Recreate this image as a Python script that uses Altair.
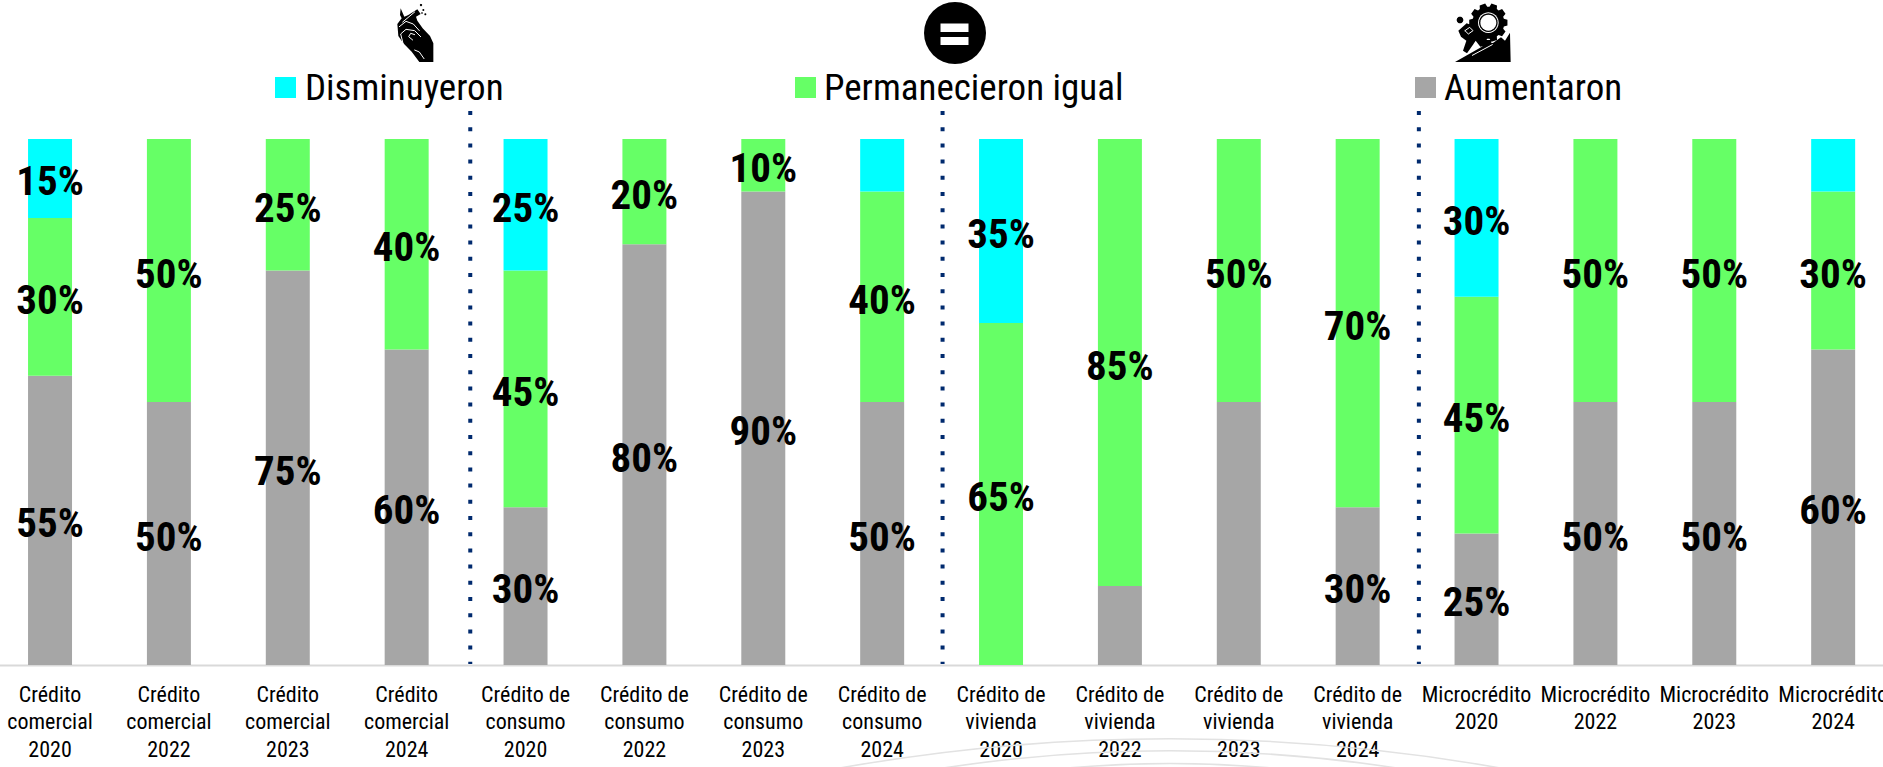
import math
import altair as alt
import pandas as pd

# ---- values ----
products = ["Crédito comercial"] * 4 + ["Crédito de consumo"] * 4 + ["Crédito de vivienda"] * 4 + ["Microcrédito"] * 4
years = ["2020", "2022", "2023", "2024"] * 4
tick_lines = (
    ["Crédito|comercial"] * 4 + ["Crédito de|consumo"] * 4 + ["Crédito de|vivienda"] * 4 + ["Microcrédito"] * 4
)
aumentaron = [55, 50, 75, 60, 30, 80, 90, 50, 0, 15, 50, 30, 25, 50, 50, 60]
permanecieron = [30, 50, 25, 40, 45, 20, 10, 40, 65, 85, 50, 70, 45, 50, 50, 30]
disminuyeron = [15, 0, 0, 0, 25, 0, 0, 10, 35, 0, 0, 0, 30, 0, 0, 10]
# segments printed without a percentage: (series, column)
unlabelled = {("Disminuyeron", 7), ("Aumentaron", 9), ("Aumentaron", 10), ("Disminuyeron", 15)}

series_names = ["Aumentaron", "Permanecieron igual", "Disminuyeron"]
series_values = [aumentaron, permanecieron, disminuyeron]
series_colors = ["#A6A6A6", "#66FF66", "#00FFFF"]

legend_names = ["Disminuyeron", "Permanecieron igual", "Aumentaron"]
legend_colors = ["#00FFFF", "#66FF66", "#A6A6A6"]
legend_swatch_x = [285.5, 805.5, 1425.5]
legend_text_x = [305, 824, 1444]

FONT = "Roboto Condensed"

# ---- table ----
keys = [f"{i:02d}|{tick_lines[i]}|{years[i]}" for i in range(16)]
rows = []
for c in range(16):
    base = 0
    for name, vals in zip(series_names, series_values):
        v = vals[c]
        if v > 0:
            rows.append(
                {
                    "key": keys[c],
                    "serie": name,
                    "start": base,
                    "end": base + v,
                    "mid": base + v / 2,
                    "label": "" if (name, c) in unlabelled else f"{v}%",
                }
            )
        base += v
df = pd.DataFrame(rows)

x_scale = alt.Scale(domain=keys, range=[-9.4, 1892.6], paddingInner=0.63, paddingOuter=0.315)
y_scale = alt.Scale(domain=[0, 100], range=[665, 139])

x_axis = alt.Axis(
    title=None,
    labelExpr="slice(split(datum.value, '|'), 1)",
    labelAngle=0,
    labelFont=FONT,
    labelFontSize=22,
    labelColor="#000000",
    labelLineHeight=27.5,
    labelPadding=19,
    labelBaseline="top",
    labelOverlap=False,
    labelBound=False,
    labelFlush=False,
    ticks=False,
    domainColor="#D9D9D9",
    domainWidth=2,
    grid=False,
)

bars = (
    alt.Chart(df)
    .mark_bar(opacity=1)
    .encode(
        x=alt.X("key:N", scale=x_scale, axis=x_axis, sort=keys),
        y=alt.Y("start:Q", scale=y_scale, axis=None),
        y2="end:Q",
        color=alt.Color("serie:N", scale=alt.Scale(domain=series_names, range=series_colors), legend=None),
    )
)

labels = (
    alt.Chart(df)
    .mark_text(font=FONT, fontSize=41, fontWeight="bold", color="#000000", baseline="middle", dy=5)
    .encode(
        x=alt.X("key:N", scale=x_scale, sort=keys),
        y=alt.Y("mid:Q", scale=y_scale),
        text="label:N",
    )
)

# dotted separators between product groups
separators = [
    alt.Chart(pd.DataFrame({"key": [keys[col]]}))
    .mark_rule(color="#002A6E", strokeWidth=4, strokeDash=[4, 12.2], xOffset=off)
    .encode(x=alt.X("key:N", scale=x_scale, sort=keys), y=alt.value(111), y2=alt.value(664))
    for col, off in [(3, 63.6), (7, 60.4), (11, 61.2)]
]

# hand-placed legend row
legend_df = pd.DataFrame({"name": legend_names, "color": legend_colors, "sx": legend_swatch_x, "tx": legend_text_x})
swatches = (
    alt.Chart(legend_df)
    .mark_point(shape="square", filled=True, size=441, opacity=1)
    .encode(x=alt.X("sx:Q", scale=None), y=alt.value(87.5), color=alt.Color("color:N", scale=None))
)
legend_text = (
    alt.Chart(legend_df)
    .mark_text(font=FONT, fontSize=37, align="left", baseline="alphabetic", color="#000000")
    .encode(x=alt.X("tx:Q", scale=None), y=alt.value(100), text="name:N")
)


# ---- pictograms: outlines written on a 210-unit canvas ----
def norm(points):
    return " ".join(f"{(px - 105) / 105:.3f},{(py - 105) / 105:.3f}" for px, py in points)


def poly(points):
    return "M" + norm(points) + "Z"


def line(points):
    return "M" + norm(points)


def disc(cx, cy, r):
    return poly([(cx + r * math.cos(a * math.pi / 12), cy + r * math.sin(a * math.pi / 12)) for a in range(24)])


def gear(cx, cy, r_in, r_out, teeth):
    pts = []
    for t in range(teeth):
        a = 2 * math.pi * t / teeth
        w = math.pi / teeth * 0.6
        pts += [
            (cx + r_in * math.cos(a - w * 1.3), cy + r_in * math.sin(a - w * 1.3)),
            (cx + r_out * math.cos(a - w * 0.8), cy + r_out * math.sin(a - w * 0.8)),
            (cx + r_out * math.cos(a + w * 0.8), cy + r_out * math.sin(a + w * 0.8)),
            (cx + r_in * math.cos(a + w * 1.3), cy + r_in * math.sin(a + w * 1.3)),
        ]
    return poly(pts)


hand_fill = (
    poly([(118, 186), (160, 186), (160, 130), (150, 108), (128, 85), (112, 62), (108, 50), (122, 42), (112, 28),
          (85, 45), (73, 50), (62, 25), (60, 45), (65, 55), (52, 72), (55, 108), (70, 130), (95, 155)])
    + disc(123, 15, 3.5) + disc(130, 30, 3) + disc(136, 43, 3) + disc(126, 39, 2.5)
)
hand_lines = (
    line([(68, 66), (104, 36)])
    + line([(58, 80), (78, 64), (100, 72), (118, 92)])
    + line([(70, 134), (62, 102), (78, 88), (104, 92), (122, 110)])
    + line([(98, 120), (86, 110), (92, 100), (104, 104)])
    + line([(104, 150), (118, 156), (132, 176)])
)
climb_fill = (
    gear(130, 68, 48, 58, 10)
    + poly([(30, 186), (120, 135), (145, 128), (168, 112), (180, 122), (195, 98), (197, 186)])
    + disc(45, 60, 10)
    + poly([(40, 92), (65, 70), (94, 82), (98, 98), (114, 120), (137, 120), (140, 132), (106, 140), (92, 122),
            (84, 134), (66, 160), (54, 152), (64, 122), (48, 110)])
)
climb_white = line([(82, 166), (142, 134)]) + line([(60, 92), (74, 82), (84, 92), (70, 102), (60, 92)])
ring_white = disc(130, 68, 31)
ring_black = disc(130, 68, 28)
ring_core = disc(130, 68, 24)


def pictogram(path, cx, cy, fill=None, stroke=None, width=0):
    mark = {"shape": path, "size": 70 * 70, "opacity": 1}
    if fill:
        mark.update(filled=True, fill=fill, strokeWidth=0)
    else:
        mark.update(filled=False, stroke=stroke, strokeWidth=width, strokeCap="round")
    return alt.Chart(pd.DataFrame({"k": [0]})).mark_point(**mark).encode(x=alt.value(cx), y=alt.value(cy))


hand_c = (415, 35)
climb_c = (1480, 35)
icons = [
    pictogram(hand_fill, *hand_c, fill="#000000"),
    pictogram(hand_lines, *hand_c, stroke="#FFFFFF", width=1.0),
    pictogram(climb_fill, *climb_c, fill="#000000"),
    pictogram(ring_white, *climb_c, fill="#FFFFFF"),
    pictogram(ring_black, *climb_c, fill="#000000"),
    pictogram(ring_core, *climb_c, fill="#FFFFFF"),
    pictogram(climb_white, *climb_c, stroke="#FFFFFF", width=1.0),
]

# equals badge
badge = (
    alt.Chart(pd.DataFrame({"k": [0]}))
    .mark_point(shape="circle", filled=True, fill="#000000", size=3844, opacity=1)
    .encode(x=alt.value(955), y=alt.value(33))
)
badge_bars = [
    alt.Chart(pd.DataFrame({"k": [0]}))
    .mark_rect(color="#FFFFFF")
    .encode(x=alt.value(940.5), x2=alt.value(968.5), y=alt.value(y0), y2=alt.value(y1))
    for y0, y1 in [(23.5, 32), (37, 45)]
]

# faint watermark arcs along the lower edge
arcs = [
    alt.Chart(pd.DataFrame({"k": [0]}))
    .mark_arc(radius=r, radius2=r - 1.6, theta=2 * math.pi - 0.2, theta2=2 * math.pi + 0.2, color=col)
    .encode(x=alt.value(1170), y=alt.value(top + r))
    for r, top, col in [(1880, 738, "#E2E2E2"), (1500, 750, "#E2E2E2"), (1200, 763, "#E2E2E2")]
]

chart = alt.layer(
    *arcs, bars, *separators, labels, swatches, legend_text, *icons, badge, *badge_bars
).properties(
    width=1883,
    height=665,
    padding={"left": 0, "top": 0, "right": 0, "bottom": 102},
    autosize=alt.AutoSizeParams(type="none"),
    background="#FFFFFF",
).configure_view(stroke=None)

chart.save("out.html", embed_options={"renderer": "svg", "actions": False})
